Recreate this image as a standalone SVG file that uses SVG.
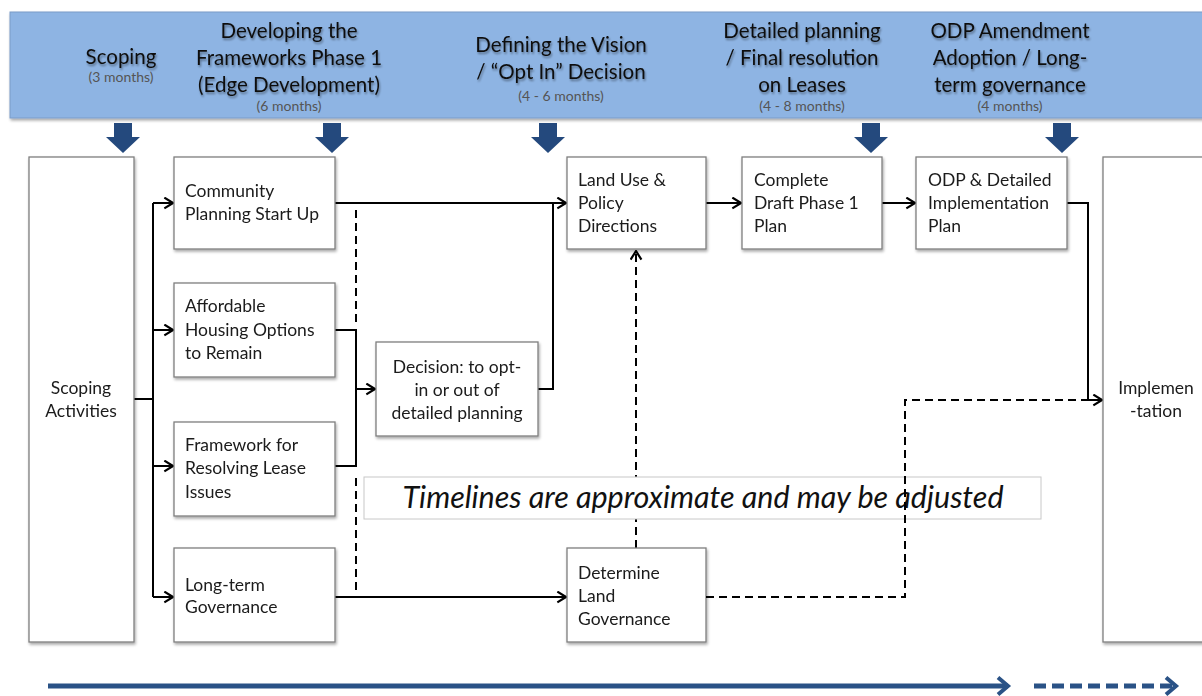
<svg xmlns="http://www.w3.org/2000/svg" width="1202" height="696" viewBox="0 0 1202 696">
  <defs>
    <filter id="shadow" x="-10%" y="-10%" width="130%" height="130%">
      <feGaussianBlur in="SourceAlpha" stdDeviation="1.5"/>
      <feOffset dx="1" dy="2" result="b"/>
      <feComponentTransfer><feFuncA type="linear" slope="0.35"/></feComponentTransfer>
      <feMerge><feMergeNode/><feMergeNode in="SourceGraphic"/></feMerge>
    </filter>
    <filter id="tshadow" x="-5%" y="-20%" width="110%" height="150%">
      <feGaussianBlur in="SourceAlpha" stdDeviation="0.8"/>
      <feOffset dx="1" dy="1.5" result="b"/>
      <feComponentTransfer><feFuncA type="linear" slope="0.4"/></feComponentTransfer>
      <feMerge><feMergeNode/><feMergeNode in="SourceGraphic"/></feMerge>
    </filter>
    <marker id="open" viewBox="0 0 12 12" refX="11" refY="6" markerWidth="13" markerHeight="13" markerUnits="userSpaceOnUse" orient="auto">
      <path d="M3,1 L11,6 L3,11" fill="none" stroke="#000" stroke-width="2"/>
    </marker>
    <marker id="blueHead" viewBox="0 0 8 8" refX="6" refY="4" markerWidth="20" markerHeight="20" markerUnits="userSpaceOnUse" orient="auto">
      <path d="M2,0.6 L6,4 L2,7.4" fill="none" stroke="#2a5286" stroke-width="1.6"/>
    </marker>
    <path id="dn" d="M-9,0 H9 V14 H17 L0,30 L-17,14 H-9 Z"/>
  </defs>
  <style>
    .box { fill: #fff; stroke: #7f7f7f; stroke-width: 1.3; }
    .lbl { font-family: Lato, "Open Sans", "Liberation Sans", sans-serif; font-size: 17.5px; fill: #1a1a1a; }
    .hd { font-family: Lato, "Open Sans", "Liberation Sans", sans-serif; font-size: 20.5px; fill: #111; text-anchor: middle; }
    .sub { font-family: Lato, "Open Sans", "Liberation Sans", sans-serif; font-size: 14px; fill: #555; text-anchor: middle; }
    .ln { fill: none; stroke: #000; stroke-width: 2; }
    .dash { fill: none; stroke: #000; stroke-width: 2; stroke-dasharray: 8 5; }
    .blue { fill: #24497d; }
  </style>

  <!-- phase header band -->
  <g id="header">
    <rect x="10" y="12" width="1200" height="106" fill="#8eb4e3" stroke="#7a9cc8" stroke-width="1" filter="url(#shadow)"/>
    <g filter="url(#tshadow)">
      <text class="hd" x="121" y="64">Scoping</text>
      <text class="hd" x="289" y="38">Developing the</text>
      <text class="hd" x="289" y="65">Frameworks Phase 1</text>
      <text class="hd" x="289" y="92">(Edge Development)</text>
      <text class="hd" x="561" y="52">Defining the Vision</text>
      <text class="hd" x="561" y="79">/ “Opt In” Decision</text>
      <text class="hd" x="802" y="38">Detailed planning</text>
      <text class="hd" x="802" y="65">/ Final resolution</text>
      <text class="hd" x="802" y="92">on Leases</text>
      <text class="hd" x="1010" y="38">ODP Amendment</text>
      <text class="hd" x="1010" y="65">Adoption / Long-</text>
      <text class="hd" x="1010" y="92">term governance</text>
    </g>
    <text class="sub" x="121" y="82">(3 months)</text>
    <text class="sub" x="289" y="111">(6 months)</text>
    <text class="sub" x="561" y="101">(4 - 6 months)</text>
    <text class="sub" x="802" y="111">(4 - 8 months)</text>
    <text class="sub" x="1010" y="111">(4 months)</text>
  </g>

  <!-- phase pointers -->
  <g id="phase-arrows" class="blue">
    <use href="#dn" x="123" y="123"/>
    <use href="#dn" x="332" y="123"/>
    <use href="#dn" x="548" y="123"/>
    <use href="#dn" x="871" y="123"/>
    <use href="#dn" x="1062" y="123"/>
  </g>

  <!-- connectors -->
  <g id="connectors">
    <path class="ln" d="M134,399 H153 M153,203 V597"/>
    <path class="ln" d="M153,203 H173" marker-end="url(#open)"/>
    <path class="ln" d="M153,330 H173" marker-end="url(#open)"/>
    <path class="ln" d="M153,466 H173" marker-end="url(#open)"/>
    <path class="ln" d="M153,597 H173" marker-end="url(#open)"/>
    <path class="ln" d="M335,203 H566" marker-end="url(#open)"/>
    <path class="dash" d="M356,210 V324"/>
    <path class="ln" d="M335,330 H356 V466 H335"/>
    <path class="ln" d="M356,389 H375" marker-end="url(#open)"/>
    <path class="dash" d="M356,478 V592"/>
    <path class="ln" d="M538,389 H553 V203"/>
    <path class="ln" d="M335,597 H566" marker-end="url(#open)"/>
    <path class="dash" d="M636,548 V251" marker-end="url(#open)"/>
    <path class="ln" d="M706,203 H741" marker-end="url(#open)"/>
    <path class="ln" d="M882,203 H915" marker-end="url(#open)"/>
    <path class="ln" d="M1067,203 H1088 V400 H1102" marker-end="url(#open)"/>
  </g>

  <!-- nodes -->
  <g id="scoping" filter="url(#shadow)">
    <rect class="box" x="29" y="157" width="105" height="485"/>
    <text class="lbl" x="81" y="394" text-anchor="middle">Scoping</text>
    <text class="lbl" x="81" y="417" text-anchor="middle">Activities</text>
  </g>
  <g id="community" filter="url(#shadow)">
    <rect class="box" x="174" y="157" width="161" height="92"/>
    <text class="lbl" x="185" y="197">Community</text>
    <text class="lbl" x="185" y="220">Planning Start Up</text>
  </g>
  <g id="housing" filter="url(#shadow)">
    <rect class="box" x="174" y="283" width="161" height="94"/>
    <text class="lbl" x="185" y="312">Affordable</text>
    <text class="lbl" x="185" y="336">Housing Options</text>
    <text class="lbl" x="185" y="359">to Remain</text>
  </g>
  <g id="lease" filter="url(#shadow)">
    <rect class="box" x="174" y="422" width="161" height="94"/>
    <text class="lbl" x="185" y="451">Framework for</text>
    <text class="lbl" x="185" y="474">Resolving Lease</text>
    <text class="lbl" x="185" y="498">Issues</text>
  </g>
  <g id="governance" filter="url(#shadow)">
    <rect class="box" x="174" y="548" width="161" height="94"/>
    <text class="lbl" x="185" y="591">Long-term</text>
    <text class="lbl" x="185" y="613">Governance</text>
  </g>
  <g id="decision" filter="url(#shadow)">
    <rect class="box" x="376" y="342" width="162" height="94"/>
    <text class="lbl" x="457" y="373" text-anchor="middle">Decision: to opt-</text>
    <text class="lbl" x="457" y="396" text-anchor="middle">in or out of</text>
    <text class="lbl" x="457" y="419" text-anchor="middle">detailed planning</text>
  </g>
  <g id="land-use" filter="url(#shadow)">
    <rect class="box" x="567" y="157" width="139" height="92"/>
    <text class="lbl" x="578" y="186">Land Use &amp;</text>
    <text class="lbl" x="578" y="209">Policy</text>
    <text class="lbl" x="578" y="232">Directions</text>
  </g>
  <g id="draft-plan" filter="url(#shadow)">
    <rect class="box" x="742" y="157" width="140" height="92"/>
    <text class="lbl" x="754" y="186">Complete</text>
    <text class="lbl" x="754" y="209">Draft Phase 1</text>
    <text class="lbl" x="754" y="232">Plan</text>
  </g>
  <g id="odp-plan" filter="url(#shadow)">
    <rect class="box" x="916" y="157" width="151" height="92"/>
    <text class="lbl" x="928" y="186">ODP &amp; Detailed</text>
    <text class="lbl" x="928" y="209">Implementation</text>
    <text class="lbl" x="928" y="232">Plan</text>
  </g>
  <g id="land-governance" filter="url(#shadow)">
    <rect class="box" x="567" y="548" width="139" height="94"/>
    <text class="lbl" x="578" y="579">Determine</text>
    <text class="lbl" x="578" y="602">Land</text>
    <text class="lbl" x="578" y="625">Governance</text>
  </g>
  <g id="implementation" filter="url(#shadow)">
    <rect class="box" x="1103" y="157" width="110" height="485"/>
    <text class="lbl" x="1156" y="394" text-anchor="middle">Implemen</text>
    <text class="lbl" x="1156" y="417" text-anchor="middle">-tation</text>
  </g>

  <!-- note (sits over the vertical dashed link, under the governance link) -->
  <g id="note">
    <rect x="364" y="477" width="677" height="42" fill="#fff" stroke="#c8c8c8" stroke-width="1"/>
    <text x="703" y="508" text-anchor="middle" font-family="Lato, 'Open Sans', 'Liberation Sans', sans-serif" font-style="italic" font-size="30.5" fill="#111">Timelines are approximate and may be adjusted</text>
  </g>

  <!-- governance link to implementation, drawn above the note -->
  <g id="connectors-top">
    <path class="dash" d="M706,597 H905 V400 H1088"/>
  </g>

  <!-- time axis -->
  <g id="time-axis">
    <path d="M48,686 H1008" fill="none" stroke="#2a5286" stroke-width="5" marker-end="url(#blueHead)"/>
    <path d="M1034,686 H1176" fill="none" stroke="#2a5286" stroke-width="5" stroke-dasharray="12 6" marker-end="url(#blueHead)"/>
  </g>
</svg>
